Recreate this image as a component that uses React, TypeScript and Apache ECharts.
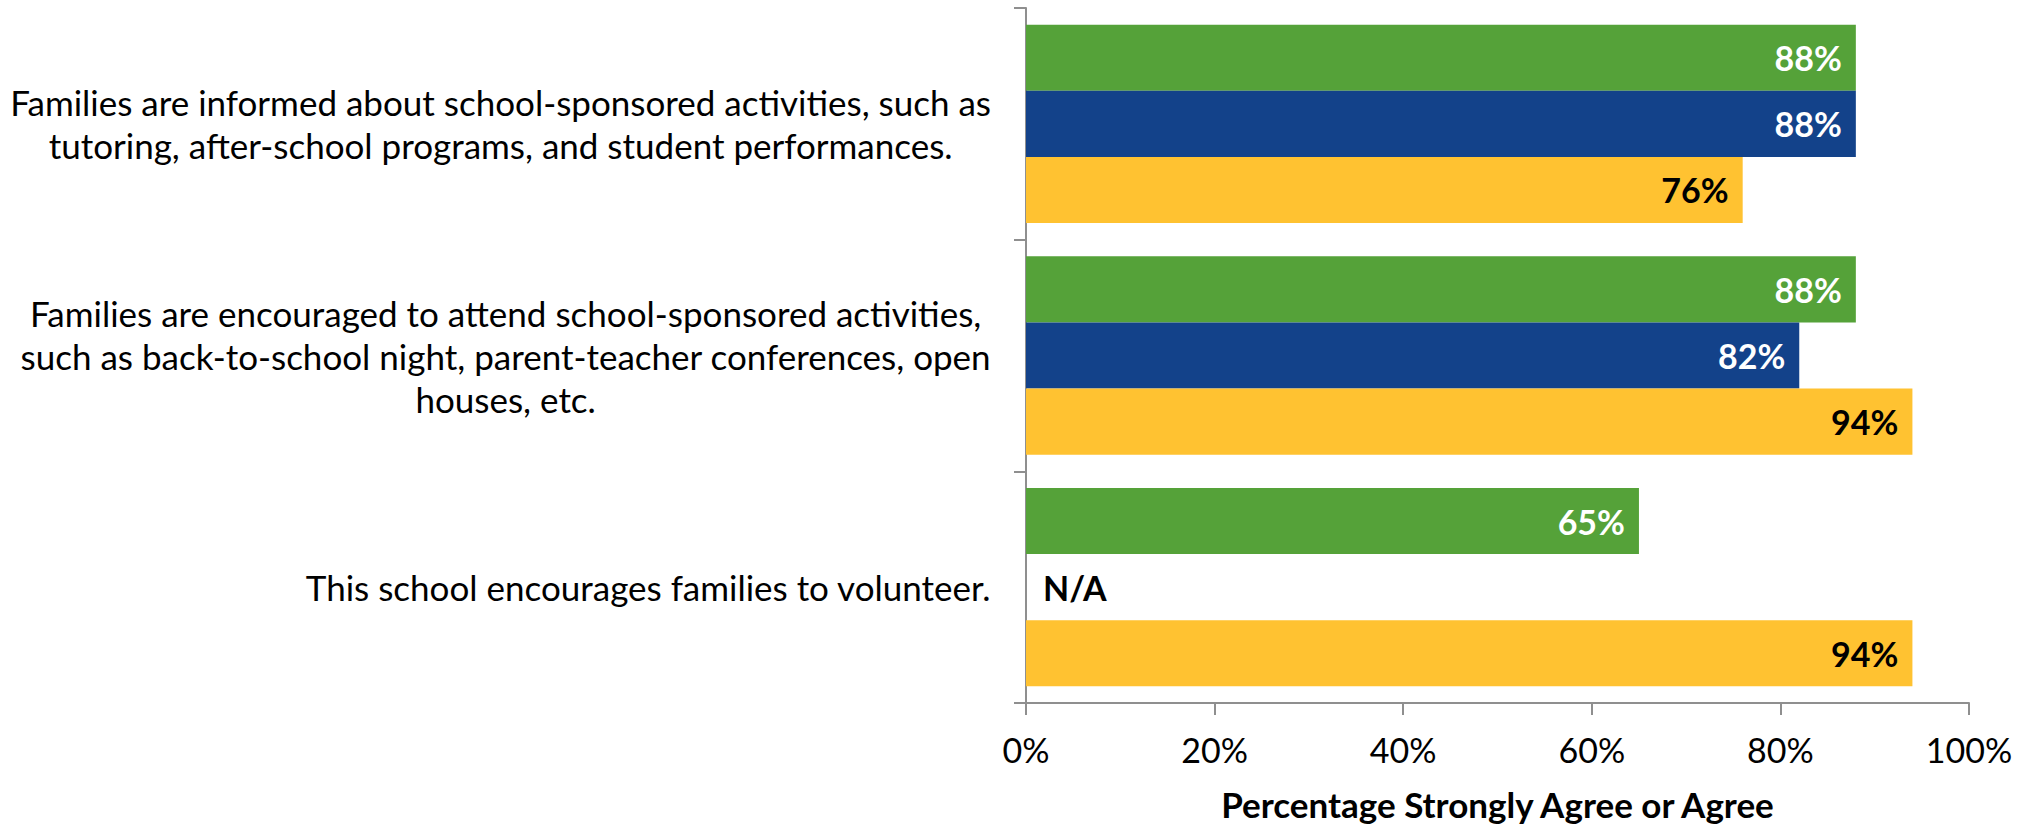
import React, { useEffect, useRef } from "react";
import * as echarts from "echarts";

const categories: string[] = [
  "Families are informed about school-sponsored activities, such as\ntutoring, after-school programs, and student performances.",
  "Families are encouraged to attend school-sponsored activities,\nsuch as back-to-school night, parent-teacher conferences, open\nhouses, etc.",
  "This school encourages families to volunteer.",
];

const seriesNames: string[] = ["Group A", "Group B", "Group C"];
const seriesA: (number | null)[] = [88, 88, 65];
const seriesB: (number | null)[] = [88, 82, null];
const seriesC: (number | null)[] = [76, 94, 94];

const xTicks: number[] = [0, 20, 40, 60, 80, 100];
const axisTitle = "Percentage Strongly Agree or Agree";

const FONT = "Lato, 'Open Sans', sans-serif";
const colors = ["#55A239", "#13428A", "#FFC231"];
const labelColors = ["#ffffff", "#ffffff", "#000000"];

function buildSeries(name: string, values: (number | null)[], idx: number) {
  return {
    name,
    type: "bar",
    barGap: "0%",
    barCategoryGap: "14.4%",
    itemStyle: { color: colors[idx] },
    label: {
      show: true,
      position: "insideRight",
      distance: 14,
      color: labelColors[idx],
      fontFamily: FONT,
      fontWeight: "bold",
      fontSize: 34,
      formatter: (p: any) => `${p.value}%`,
    },
    data: values.map((v) =>
      v === null
        ? {
            value: 0,
            label: {
              show: true,
              position: "right",
              distance: 17,
              color: "#000000",
              formatter: () => "N/A",
            },
          }
        : v
    ),
  };
}

export default function App() {
  const ref = useRef<HTMLDivElement>(null);
  useEffect(() => {
    if (!ref.current) return;
    const chart = echarts.init(ref.current, undefined, { renderer: "svg" });
    chart.setOption({
      animation: false,
      backgroundColor: "#ffffff",
      grid: { left: 1026, right: 59, top: 8, bottom: 120, containLabel: false },
      xAxis: {
        type: "value",
        min: xTicks[0],
        max: xTicks[xTicks.length - 1],
        interval: xTicks[1] - xTicks[0],
        splitLine: { show: false },
        axisLine: { show: true, lineStyle: { color: "#8f8f8f", width: 2 } },
        axisTick: { show: true, length: 12, lineStyle: { color: "#8f8f8f", width: 2 } },
        axisLabel: {
          color: "#000000",
          fontFamily: FONT,
          fontSize: 34,
          margin: 29,
          formatter: "{value}%",
        },
        name: axisTitle,
        nameLocation: "middle",
        nameGap: 83,
        nameTextStyle: {
          color: "#000000",
          fontFamily: FONT,
          fontWeight: "bold",
          fontSize: 35,
        },
      },
      yAxis: {
        type: "category",
        inverse: true,
        data: categories,
        axisLine: { show: true, lineStyle: { color: "#8f8f8f", width: 2 } },
        axisTick: { show: true, length: 12, lineStyle: { color: "#8f8f8f", width: 2 } },
        axisLabel: {
          align: "right",
          margin: 35,
          color: "#000000",
          fontFamily: FONT,
          fontSize: 35,
          lineHeight: 43,
          formatter: (v: string) =>
            v
              .split("\n")
              .map((l) => `{c|${l}}`)
              .join("\n"),
          rich: {
            c: {
              align: "center",
              color: "#000000",
              fontFamily: FONT,
              fontSize: 35,
              lineHeight: 43,
            },
          },
        },
      },
      series: [
        buildSeries(seriesNames[0], seriesA, 0),
        buildSeries(seriesNames[1], seriesB, 1),
        buildSeries(seriesNames[2], seriesC, 2),
      ],
    });
    return () => chart.dispose();
  }, []);
  return (
    <div
      ref={ref}
      style={{ position: "absolute", left: 0, top: 0, width: 2028, height: 826 }}
    />
  );
}
